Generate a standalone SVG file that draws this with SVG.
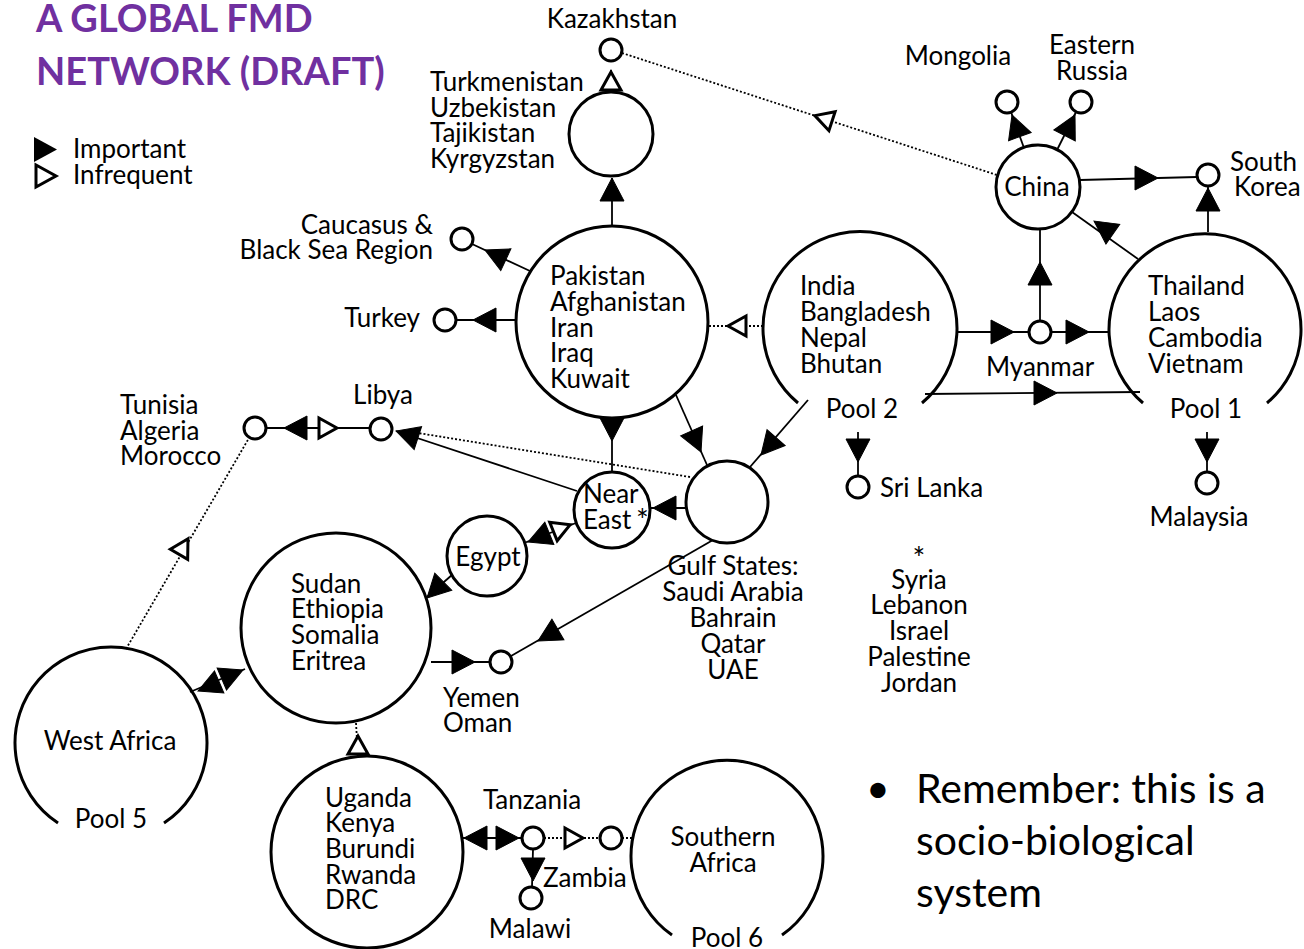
<svg xmlns="http://www.w3.org/2000/svg" xmlns:xlink="http://www.w3.org/1999/xlink" width="1304" height="949" viewBox="0 0 1304 949">
<style>
text{font-family:Lato,"Open Sans","Liberation Sans",sans-serif;font-size:26px;fill:#000}
.title{font-size:38px;font-weight:bold;fill:#7030A0}
.big{font-size:41px}
.mid{text-anchor:middle}
.end{text-anchor:end}
.node{fill:#fff;stroke:#000;stroke-width:3}
.pool{fill:none;stroke:#000;stroke-width:3}
.ln{stroke:#000;stroke-width:1.8;fill:none}
.dot{stroke:#000;stroke-width:1.8;fill:none;stroke-dasharray:2 2}
.imp{fill:#000;stroke:#000;stroke-width:1}
.inf{fill:#fff;stroke:#000;stroke-width:3;stroke-linejoin:miter}
</style>
<defs>
<path id="tri" d="M0,0 L-23,-12 L-23,12 Z"/>
<path id="otri" d="M-2,0 L-20,-10 L-20,10 Z"/>
</defs>
<rect width="1304" height="949" fill="#fff"/>
<g id="title">
<text class="title" x="36" y="32">A GLOBAL FMD</text>
<text class="title" x="36" y="85">NETWORK (DRAFT)</text>
</g>
<g id="legend">
<polygon points="34,137 34,162 57,149.5" fill="#000"/>
<polygon points="36,165 36,187 56,176" class="inf"/>
<text x="73" y="158">Important</text>
<text x="73" y="184">Infrequent</text>
</g>
<g id="connectors">
<line class="ln" x1="611" y1="92" x2="611" y2="70"/>
<line class="dot" x1="622" y1="53" x2="997" y2="175"/>
<line class="ln" x1="612" y1="226" x2="612" y2="178"/>
<line class="ln" x1="530" y1="271" x2="472" y2="244"/>
<line class="ln" x1="516" y1="320" x2="456" y2="320"/>
<line class="dot" x1="763" y1="326" x2="708" y2="326"/>
<line class="ln" x1="612" y1="418" x2="612" y2="472"/>
<line class="ln" x1="676" y1="395" x2="707" y2="465"/>
<line class="ln" x1="808" y1="400" x2="750" y2="467"/>
<line class="ln" x1="686" y1="508" x2="650" y2="508"/>
<line class="ln" x1="713" y1="540" x2="511" y2="656"/>
<line class="ln" x1="577" y1="491" x2="396" y2="431"/>
<line class="dot" x1="690" y1="477" x2="418" y2="433"/>
<line class="ln" x1="266" y1="428" x2="370" y2="428"/>
<line class="dot" x1="126" y1="649" x2="249" y2="438"/>
<line class="ln" x1="576" y1="523" x2="524" y2="543"/>
<line class="ln" x1="453" y1="574" x2="427" y2="597"/>
<line class="ln" x1="431" y1="662" x2="490" y2="662"/>
<line class="ln" x1="190" y1="692" x2="245" y2="669"/>
<line class="dot" x1="358" y1="757" x2="356" y2="723"/>
<line class="ln" x1="463" y1="838" x2="522" y2="838"/>
<line class="dot" x1="544" y1="838" x2="600" y2="838"/>
<line class="dot" x1="622" y1="838" x2="632" y2="838"/>
<line class="ln" x1="533" y1="849" x2="532" y2="887"/>
<line class="ln" x1="1024" y1="148" x2="1011" y2="112"/>
<line class="ln" x1="1057" y1="150" x2="1076" y2="112"/>
<line class="ln" x1="1080" y1="180" x2="1197" y2="177"/>
<line class="ln" x1="1208" y1="232" x2="1208" y2="186"/>
<line class="ln" x1="1138" y1="259" x2="1072" y2="212"/>
<line class="ln" x1="1040" y1="321" x2="1040" y2="229"/>
<line class="ln" x1="957" y1="332" x2="1029" y2="332"/>
<line class="ln" x1="1051" y1="332" x2="1110" y2="332"/>
<line class="ln" x1="925" y1="394" x2="1140" y2="392"/>
<line class="ln" x1="858" y1="432" x2="858" y2="476"/>
<line class="ln" x1="1207" y1="432" x2="1207" y2="472"/>
<use xlink:href="#otri" class="inf" transform="translate(611,70) rotate(-90)"/>
<use xlink:href="#otri" class="inf" transform="translate(813,115) rotate(198)"/>
<use xlink:href="#tri" class="imp" transform="translate(612,178) rotate(-90)"/>
<use xlink:href="#tri" class="imp" transform="translate(485,250) rotate(205)"/>
<use xlink:href="#tri" class="imp" transform="translate(473,320) rotate(180)"/>
<use xlink:href="#otri" class="inf" transform="translate(726,326) rotate(180)"/>
<use xlink:href="#tri" class="imp" transform="translate(612,441) rotate(90)"/>
<use xlink:href="#tri" class="imp" transform="translate(701,452) rotate(66)"/>
<use xlink:href="#tri" class="imp" transform="translate(761,455) rotate(131)"/>
<use xlink:href="#tri" class="imp" transform="translate(653,508) rotate(180)"/>
<use xlink:href="#tri" class="imp" transform="translate(538,641) rotate(150)"/>
<use xlink:href="#tri" class="imp" transform="translate(396,431) rotate(198)"/>
<use xlink:href="#tri" class="imp" transform="translate(284,428) rotate(180)"/>
<use xlink:href="#otri" class="inf" transform="translate(339,428) rotate(0)"/>
<use xlink:href="#otri" class="inf" transform="translate(189,537) rotate(-60)"/>
<use xlink:href="#tri" class="imp" transform="translate(528,542) rotate(158)"/>
<use xlink:href="#otri" class="inf" transform="translate(572,524) rotate(-22)"/>
<use xlink:href="#tri" class="imp" transform="translate(427,598) rotate(135)"/>
<use xlink:href="#tri" class="imp" transform="translate(475,662) rotate(0)"/>
<use xlink:href="#tri" class="imp" transform="translate(198,691) rotate(157)"/>
<use xlink:href="#tri" class="imp" transform="translate(243,670) rotate(-23)"/>
<use xlink:href="#otri" class="inf" transform="translate(358,734) rotate(-90)"/>
<use xlink:href="#tri" class="imp" transform="translate(464,838) rotate(180)"/>
<use xlink:href="#tri" class="imp" transform="translate(519,838) rotate(0)"/>
<use xlink:href="#otri" class="inf" transform="translate(585,838) rotate(0)"/>
<use xlink:href="#tri" class="imp" transform="translate(533,881) rotate(90)"/>
<use xlink:href="#tri" class="imp" transform="translate(1012,115) rotate(-110)"/>
<use xlink:href="#tri" class="imp" transform="translate(1075,115) rotate(-63)"/>
<use xlink:href="#tri" class="imp" transform="translate(1158,178) rotate(0)"/>
<use xlink:href="#tri" class="imp" transform="translate(1208,188) rotate(-90)"/>
<use xlink:href="#tri" class="imp" transform="translate(1094,221) rotate(215)"/>
<use xlink:href="#tri" class="imp" transform="translate(1040,262) rotate(-90)"/>
<use xlink:href="#tri" class="imp" transform="translate(1014,332) rotate(0)"/>
<use xlink:href="#tri" class="imp" transform="translate(1089,332) rotate(0)"/>
<use xlink:href="#tri" class="imp" transform="translate(1057,393) rotate(0)"/>
<use xlink:href="#tri" class="imp" transform="translate(858,462) rotate(90)"/>
<use xlink:href="#tri" class="imp" transform="translate(1207,462) rotate(90)"/>
</g>
<g id="kazakhstan"><circle class="node" cx="611" cy="50" r="11"/><text class="mid" x="612" y="28">Kazakhstan</text></g>
<g id="central-asia"><circle class="node" cx="611" cy="134" r="42"/>
<text x="430" y="91">Turkmenistan</text><text x="430" y="117">Uzbekistan</text><text x="430" y="142">Tajikistan</text><text x="430" y="168">Kyrgyzstan</text></g>
<g id="pakistan"><circle class="node" cx="612" cy="322" r="96"/>
<text x="550" y="285">Pakistan</text><text x="550" y="311">Afghanistan</text><text x="550" y="337">Iran</text><text x="550" y="362">Iraq</text><text x="550" y="388">Kuwait</text></g>
<g id="caucasus"><circle class="node" cx="462" cy="239" r="11"/><text class="end" x="433" y="234">Caucasus &amp;</text><text class="end" x="433" y="259">Black Sea Region</text></g>
<g id="turkey"><circle class="node" cx="445" cy="320" r="11"/><text class="end" x="420" y="327">Turkey</text></g>
<g id="pool2"><path class="pool" d="M798,403 A97,97 0 1 1 922,403"/>
<text x="800" y="295">India</text><text x="800" y="321">Bangladesh</text><text x="800" y="347">Nepal</text><text x="800" y="373">Bhutan</text>
<text class="mid" x="862" y="418">Pool 2</text></g>
<g id="myanmar"><circle class="node" cx="1040" cy="332" r="11"/><text class="mid" x="1040" y="376">Myanmar</text></g>
<g id="china"><circle class="node" cx="1038" cy="187" r="42"/><text class="mid" x="1037" y="196">China</text></g>
<g id="mongolia"><circle class="node" cx="1007" cy="102" r="11"/><text class="mid" x="958" y="65">Mongolia</text></g>
<g id="eastern-russia"><circle class="node" cx="1081" cy="102" r="11"/><text class="mid" x="1092" y="54">Eastern</text><text class="mid" x="1092" y="80">Russia</text></g>
<g id="south-korea"><circle class="node" cx="1208" cy="175" r="11"/><text x="1230" y="171">South</text><text x="1234" y="196">Korea</text></g>
<g id="pool1"><path class="pool" d="M1143,403 A96,96 0 1 1 1267,403"/>
<text x="1148" y="295">Thailand</text><text x="1148" y="321">Laos</text><text x="1148" y="347">Cambodia</text><text x="1148" y="373">Vietnam</text>
<text class="mid" x="1206" y="418">Pool 1</text></g>
<g id="sri-lanka"><circle class="node" cx="858" cy="487" r="11"/><text x="880" y="497">Sri Lanka</text></g>
<g id="malaysia"><circle class="node" cx="1207" cy="483" r="11"/><text class="mid" x="1199" y="526">Malaysia</text></g>
<g id="gulf-states"><circle class="node" cx="727" cy="502" r="41"/>
<text class="mid" x="733" y="575">Gulf States:</text><text class="mid" x="733" y="601">Saudi Arabia</text><text class="mid" x="733" y="627">Bahrain</text><text class="mid" x="733" y="653">Qatar</text><text class="mid" x="733" y="679">UAE</text></g>
<g id="near-east"><circle class="node" cx="612" cy="510" r="38"/><text x="583" y="503">Near</text><text x="583" y="529">East</text><text x="636" y="531" style="font-size:30px">*</text></g>
<g id="near-east-note"><text class="mid" x="919" y="569" style="font-size:30px">*</text><text class="mid" x="919" y="589">Syria</text><text class="mid" x="919" y="614">Lebanon</text><text class="mid" x="919" y="640">Israel</text><text class="mid" x="919" y="666">Palestine</text><text class="mid" x="919" y="692">Jordan</text></g>
<g id="libya"><circle class="node" cx="381" cy="429" r="11"/><text class="mid" x="383" y="404">Libya</text></g>
<g id="maghreb"><circle class="node" cx="255" cy="428" r="11"/><text x="120" y="414">Tunisia</text><text x="120" y="440">Algeria</text><text x="120" y="465">Morocco</text></g>
<g id="egypt"><circle class="node" cx="487" cy="556" r="40"/><text class="mid" x="488" y="566">Egypt</text></g>
<g id="sudan"><circle class="node" cx="336" cy="628" r="95"/>
<text x="291" y="593">Sudan</text><text x="291" y="618">Ethiopia</text><text x="291" y="644">Somalia</text><text x="291" y="670">Eritrea</text></g>
<g id="yemen"><circle class="node" cx="501" cy="662" r="11"/><text x="443" y="707">Yemen</text><text x="443" y="732">Oman</text></g>
<g id="pool5"><path class="pool" d="M58,823 A96,96 0 1 1 164,823"/>
<text class="mid" x="110" y="750">West Africa</text><text class="mid" x="111" y="828">Pool 5</text></g>
<g id="uganda"><circle class="node" cx="367" cy="852" r="96"/>
<text x="325" y="807">Uganda</text><text x="325" y="832">Kenya</text><text x="325" y="858">Burundi</text><text x="325" y="884">Rwanda</text><text x="325" y="909">DRC</text></g>
<g id="tanzania"><circle class="node" cx="533" cy="838" r="11"/><text class="mid" x="532" y="809">Tanzania</text></g>
<g id="zambia"><circle class="node" cx="611" cy="838" r="11"/><text x="543" y="887">Zambia</text></g>
<g id="malawi"><circle class="node" cx="531" cy="898" r="11"/><text class="mid" x="530" y="938">Malawi</text></g>
<g id="pool6"><path class="pool" d="M672,935 A96,96 0 1 1 782,935"/>
<text class="mid" x="723" y="846">Southern</text><text class="mid" x="723" y="872">Africa</text><text class="mid" x="727" y="947">Pool 6</text></g>
<g id="note"><text class="big" x="866" y="803">•</text><text class="big" x="916" y="803">Remember: this is a</text><text class="big" x="916" y="855">socio-biological</text><text class="big" x="916" y="907">system</text></g>
</svg>
